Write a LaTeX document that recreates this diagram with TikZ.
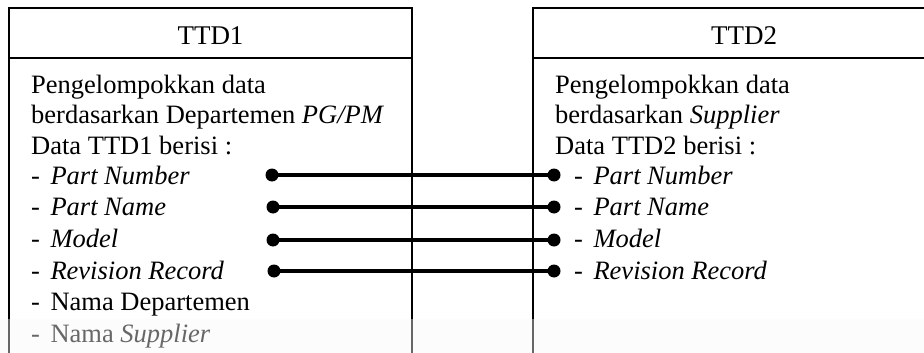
\documentclass[tikz,border=0pt]{standalone}
\usepackage{fontspec}
\setmainfont{Liberation Serif}
\newcommand{\itemdash}{-\hspace{10.5pt}}
\begin{document}
\begin{tikzpicture}[x=1pt,y=-1pt,
  boxline/.style={line width=2.6pt},
  txt/.style={anchor=base west,inner sep=0pt,font=\fontsize{26.5}{30}\selectfont},
  ttl/.style={anchor=center,inner sep=0pt,font=\fontsize{27}{30}\selectfont},
  dotnode/.style={circle,fill=black,inner sep=0pt,minimum size=13pt},
  conn/.style={line width=3.2pt}]
\useasboundingbox (0,0) rectangle (924,353);
\begin{scope}
\clip (0,0) rectangle (924,353);
% left box
\draw[boxline] (9,360) -- (9,8) -- (412,8) -- (412,360);
\draw[boxline] (9,58) -- (412,58);
% right box
\draw[boxline] (533,360) -- (533,8) -- (960,8);
\draw[boxline] (533,58) -- (960,58);
\end{scope}
\node[ttl] (t1) at (210.5,36) {TTD1};
\node[ttl] (t2) at (744,36) {TTD2};
% left texts
\node[txt] (a1) at (31,94) {Pengelompokkan data};
\node[txt] (a2) at (31,124) {berdasarkan Departemen \textit{PG/PM}};
\node[txt] (a3) at (31,154) {Data TTD1 berisi :};
\node[txt] (a4) at (31,184) {\itemdash\textit{Part Number}};
\node[txt] (a5) at (31,215) {\itemdash\textit{Part Name}};
\node[txt] (a6) at (31,247) {\itemdash\textit{Model}};
\node[txt] (a7) at (31,279) {\itemdash\textit{Revision Record}};
\node[txt] (a8) at (31,310) {\itemdash Nama Departemen};
\node[txt] (a9) at (31,342) {\itemdash Nama \textit{Supplier}};
% right texts
\node[txt] (b1) at (555,94) {Pengelompokkan data};
\node[txt] (b2) at (555,124) {berdasarkan \textit{Supplier}};
\node[txt] (b3) at (555,154) {Data TTD2 berisi :};
\node[txt] (b4) at (574,184) {\itemdash\textit{Part Number}};
\node[txt] (b5) at (574,215) {\itemdash\textit{Part Name}};
\node[txt] (b6) at (574,247) {\itemdash\textit{Model}};
\node[txt] (b7) at (574,279) {\itemdash\textit{Revision Record}};
% dots
\node[dotnode] (l1) at (272,175) {};
\node[dotnode] (l2) at (273,207) {};
\node[dotnode] (l3) at (273,240) {};
\node[dotnode] (l4) at (274,271) {};
\node[dotnode] (r1) at (554,175) {};
\node[dotnode] (r2) at (554,207) {};
\node[dotnode] (r3) at (554,240) {};
\node[dotnode] (r4) at (554,271) {};
\draw[conn] (l1.center) -- (r1.center);
\draw[conn] (l2.center) -- (r2.center);
\draw[conn] (l3.center) -- (r3.center);
\draw[conn] (l4.center) -- (r4.center);
% faded bottom band
\fill[fill={rgb,255:red,247;green,247;blue,247},opacity=0.42] (0,319) rectangle (924,353);
\end{tikzpicture}
\end{document}
